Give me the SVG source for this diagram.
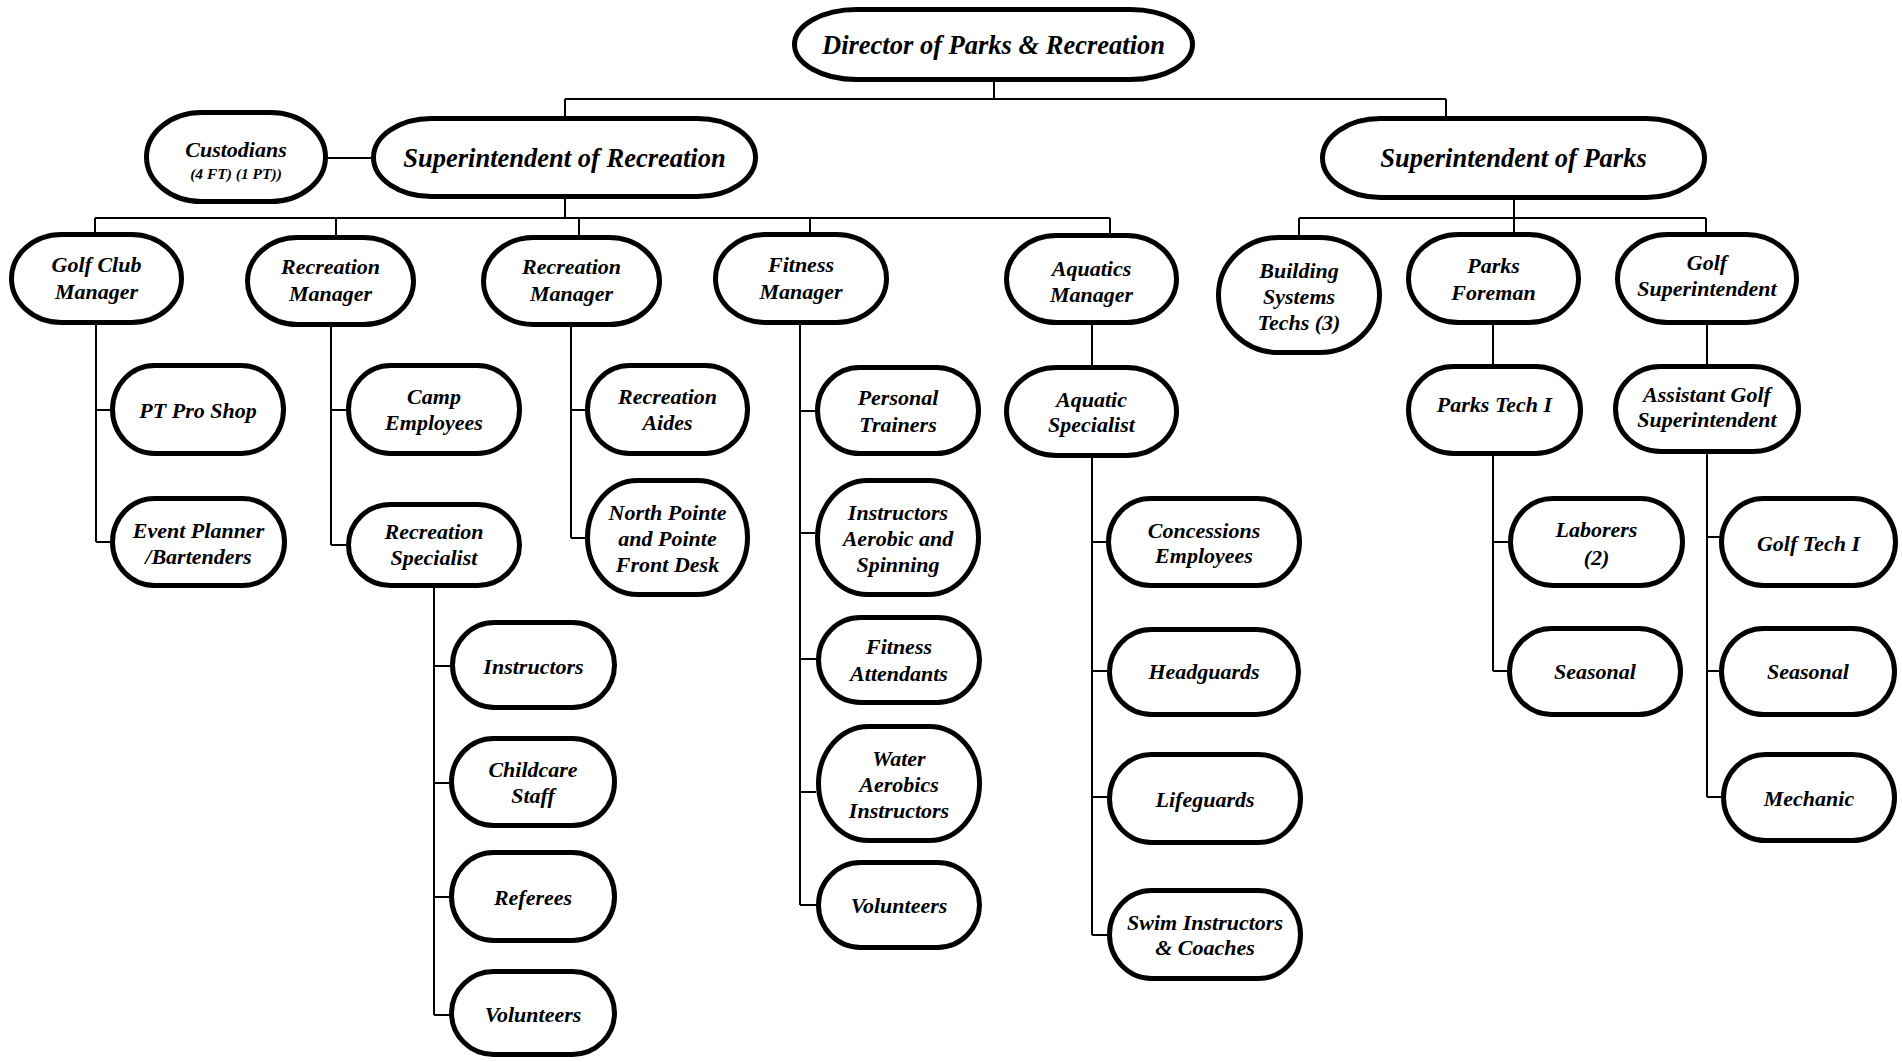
<svg xmlns="http://www.w3.org/2000/svg" width="1902" height="1062" viewBox="0 0 1902 1062">
<style>
.bg{fill:#fff}
.n rect{fill:#fff;stroke:#000;stroke-width:5}
.n text{font-family:"Liberation Serif","Times New Roman",serif;font-weight:bold;font-style:italic;font-size:22px;text-anchor:middle;fill:#000}
.n text.big{font-size:26.5px}
.n text.sm{font-size:15.5px}
.c path{fill:none;stroke:#000;stroke-width:2}
</style>
<rect class="bg" x="0" y="0" width="1902" height="1062"/>
<g class="c" id="connectors">
<path d="M994 82V99M565 99H1446M565 99V116M1446 99V116"/>
<path d="M328 158H371"/>
<path d="M565 199V218M95 218H1110M95 218V232M336 218V235M579 218V235M810 218V232M1110 218V233"/>
<path d="M1514 200V232M1299 218H1706M1299 218V235M1706 218V232"/>
<path d="M96 325V542M96 410H110M96 542H110"/>
<path d="M331 327V545M331 410H346M331 545H346"/>
<path d="M571 327V538M571 410H585M571 538H585"/>
<path d="M800 325V905M800 411H815M800 533H815M800 659H816M800 792H816M800 905H816"/>
<path d="M1092 325V365M1092 458V935M1092 542H1106M1092 671H1107M1092 797H1107M1092 935H1107"/>
<path d="M434 588V1015M434 666H450M434 783H449M434 897H449M434 1015H449"/>
<path d="M1493 325V364M1493 456V671M1493 542H1508M1493 671H1507"/>
<path d="M1707 325V364M1707 454V797M1707 537H1720M1707 671H1720M1707 797H1721"/>
</g>
<g class="n" id="director"><rect x="794.5" y="9.5" width="398" height="70" rx="62" ry="35"/><text class="big" x="993.5" y="54">Director of Parks &amp; Recreation</text></g>
<g class="n" id="custodians"><rect x="146.5" y="112.5" width="179" height="89" rx="55" ry="44.5"/><text x="236" y="157">Custodians</text><text class="sm" x="236" y="179">(4 FT) (1 PT))</text></g>
<g class="n" id="sup-recreation"><rect x="373.5" y="118.5" width="382" height="78" rx="58" ry="39"/><text class="big" x="564.5" y="167">Superintendent of Recreation</text></g>
<g class="n" id="sup-parks"><rect x="1322.5" y="118.5" width="382" height="79" rx="58" ry="39.5"/><text class="big" x="1513.5" y="167">Superintendent of Parks</text></g>

<g class="n" id="golf-club-manager"><rect x="11.5" y="234.5" width="170" height="88" rx="50" ry="44"/><text x="96.5" y="272">Golf Club</text><text x="96.5" y="299">Manager</text></g>
<g class="n" id="recreation-manager-1"><rect x="247.5" y="237.5" width="166" height="87" rx="50" ry="43.5"/><text x="330.5" y="274">Recreation</text><text x="330.5" y="301">Manager</text></g>
<g class="n" id="recreation-manager-2"><rect x="483.5" y="237.5" width="176" height="87" rx="50" ry="43.5"/><text x="571.5" y="274">Recreation</text><text x="571.5" y="301">Manager</text></g>
<g class="n" id="fitness-manager"><rect x="715.5" y="234.5" width="171" height="88" rx="50" ry="44"/><text x="801" y="272">Fitness</text><text x="801" y="299">Manager</text></g>
<g class="n" id="aquatics-manager"><rect x="1006.5" y="235.5" width="170" height="87" rx="50" ry="43.5"/><text x="1091.5" y="276">Aquatics</text><text x="1091.5" y="302">Manager</text></g>
<g class="n" id="building-systems-techs"><rect x="1218.5" y="237.5" width="161" height="115" rx="60" ry="57.5"/><text x="1299" y="278">Building</text><text x="1299" y="304">Systems</text><text x="1299" y="330">Techs (3)</text></g>
<g class="n" id="parks-foreman"><rect x="1408.5" y="234.5" width="170" height="88" rx="50" ry="44"/><text x="1493.5" y="273">Parks</text><text x="1493.5" y="300">Foreman</text></g>
<g class="n" id="golf-superintendent"><rect x="1617.5" y="234.5" width="179" height="88" rx="50" ry="44"/><text x="1707" y="270">Golf</text><text x="1707" y="296">Superintendent</text></g>

<g class="n" id="pt-pro-shop"><rect x="112.5" y="365.5" width="171" height="88" rx="42" ry="44"/><text x="198" y="418">PT Pro Shop</text></g>
<g class="n" id="event-planner"><rect x="112.5" y="498.5" width="172" height="87" rx="42" ry="43.5"/><text x="198.5" y="538">Event Planner</text><text x="198.5" y="564">/Bartenders</text></g>
<g class="n" id="camp-employees"><rect x="348.5" y="365.5" width="171" height="88" rx="42" ry="44"/><text x="434" y="404">Camp</text><text x="434" y="430">Employees</text></g>
<g class="n" id="recreation-specialist"><rect x="348.5" y="504.5" width="171" height="81" rx="42" ry="40.5"/><text x="434" y="539">Recreation</text><text x="434" y="565">Specialist</text></g>
<g class="n" id="recreation-aides"><rect x="587.5" y="365.5" width="160" height="88" rx="42" ry="44"/><text x="667.5" y="404">Recreation</text><text x="667.5" y="430">Aides</text></g>
<g class="n" id="north-pointe"><rect x="587.5" y="480.5" width="160" height="114" rx="50" ry="57"/><text x="667.5" y="520">North Pointe</text><text x="667.5" y="546">and Pointe</text><text x="667.5" y="572">Front Desk</text></g>

<g class="n" id="personal-trainers"><rect x="817.5" y="367.5" width="161" height="86" rx="42" ry="43"/><text x="898" y="405">Personal</text><text x="898" y="432">Trainers</text></g>
<g class="n" id="instructors-aerobic"><rect x="817.5" y="480.5" width="161" height="114" rx="50" ry="57"/><text x="898" y="520">Instructors</text><text x="898" y="546">Aerobic and</text><text x="898" y="572">Spinning</text></g>
<g class="n" id="fitness-attendants"><rect x="818.5" y="617.5" width="161" height="85" rx="42" ry="42.5"/><text x="899" y="654">Fitness</text><text x="899" y="681">Attendants</text></g>
<g class="n" id="water-aerobics"><rect x="818.5" y="726.5" width="161" height="114" rx="50" ry="57"/><text x="899" y="766">Water</text><text x="899" y="792">Aerobics</text><text x="899" y="818">Instructors</text></g>
<g class="n" id="fitness-volunteers"><rect x="818.5" y="862.5" width="161" height="85" rx="42" ry="42.5"/><text x="899" y="913">Volunteers</text></g>

<g class="n" id="aquatic-specialist"><rect x="1006.5" y="367.5" width="170" height="88" rx="50" ry="44"/><text x="1091.5" y="407">Aquatic</text><text x="1091.5" y="432">Specialist</text></g>
<g class="n" id="concessions-employees"><rect x="1108.5" y="498.5" width="191" height="87" rx="42" ry="43.5"/><text x="1204" y="538">Concessions</text><text x="1204" y="563">Employees</text></g>
<g class="n" id="headguards"><rect x="1109.5" y="629.5" width="189" height="85" rx="42" ry="42.5"/><text x="1204" y="679">Headguards</text></g>
<g class="n" id="lifeguards"><rect x="1109.5" y="754.5" width="191" height="88" rx="42" ry="44"/><text x="1205" y="807">Lifeguards</text></g>
<g class="n" id="swim-instructors"><rect x="1109.5" y="890.5" width="191" height="88" rx="42" ry="44"/><text x="1205" y="930">Swim Instructors</text><text x="1205" y="955">&amp; Coaches</text></g>

<g class="n" id="instructors"><rect x="452.5" y="622.5" width="162" height="85" rx="42" ry="42.5"/><text x="533.5" y="674">Instructors</text></g>
<g class="n" id="childcare-staff"><rect x="451.5" y="738.5" width="163" height="87" rx="42" ry="43.5"/><text x="533" y="777">Childcare</text><text x="533" y="803">Staff</text></g>
<g class="n" id="referees"><rect x="451.5" y="852.5" width="163" height="88" rx="42" ry="44"/><text x="533" y="905">Referees</text></g>
<g class="n" id="rec-volunteers"><rect x="451.5" y="971.5" width="163" height="83" rx="42" ry="41.5"/><text x="533" y="1022">Volunteers</text></g>

<g class="n" id="parks-tech-1"><rect x="1408.5" y="366.5" width="172" height="87" rx="45" ry="43.5"/><text x="1494.5" y="412">Parks Tech I</text></g>
<g class="n" id="laborers"><rect x="1510.5" y="498.5" width="172" height="87" rx="42" ry="43.5"/><text x="1596.5" y="537">Laborers</text><text x="1596.5" y="565">(2)</text></g>
<g class="n" id="parks-seasonal"><rect x="1509.5" y="628.5" width="171" height="86" rx="42" ry="43"/><text x="1595" y="679">Seasonal</text></g>
<g class="n" id="assistant-golf-superintendent"><rect x="1615.5" y="366.5" width="183" height="85" rx="45" ry="42.5"/><text x="1707" y="402">Assistant Golf</text><text x="1707" y="427">Superintendent</text></g>
<g class="n" id="golf-tech-1"><rect x="1721.5" y="498.5" width="174" height="87" rx="42" ry="43.5"/><text x="1808.5" y="551">Golf Tech I</text></g>
<g class="n" id="golf-seasonal"><rect x="1721.5" y="628.5" width="173" height="86" rx="42" ry="43"/><text x="1808" y="679">Seasonal</text></g>
<g class="n" id="mechanic"><rect x="1723.5" y="754.5" width="171" height="86" rx="42" ry="43"/><text x="1809" y="806">Mechanic</text></g>
</svg>
